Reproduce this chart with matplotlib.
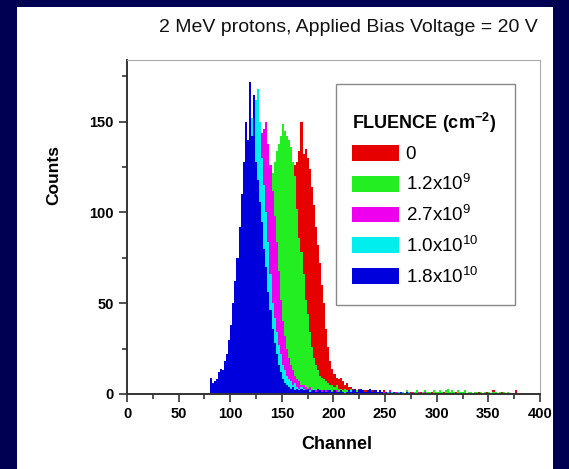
import numpy as np
import matplotlib
matplotlib.use('Agg')
import matplotlib.pyplot as plt
import matplotlib.patches as mpatches
from matplotlib.ticker import MultipleLocator

plt.rcParams['font.family'] = ['Liberation Sans', 'DejaVu Sans']
plt.rcParams['mathtext.fontset'] = 'custom'
plt.rcParams['mathtext.rm'] = 'Liberation Sans'
plt.rcParams['mathtext.bf'] = 'Liberation Sans:bold'

# spectra, counts per 2-channel bin, first bin starts at the given channel
bin_width = 2
labels = ['0', '1.2x10$^9$', '2.7x10$^9$', '1.0x10$^{10}$', '1.8x10$^{10}$']
colors = ['#e60000', '#22ee22', '#ee00ee', '#00eeee', '#0000dd']

red_start = 120
red = [3, 4, 6, 8, 10, 14, 18, 22, 28, 34, 42, 50, 58, 66, 76, 86, 94, 102, 110, 116,
       122, 126, 128, 134, 150, 132, 135, 130, 124, 114, 104, 92, 82, 72, 60, 50, 36, 26,
       18, 14, 11, 9, 8, 9, 7, 5, 6, 4, 4, 3, 3, 2, 3,
       2, 1, 2, 1, 1, 2, 0, 1, 1, 0, 1, 2, 0, 1, 0, 1, 1, 0, 1, 0, 1, 0, 1, 0, 1, 0, 0,
       1, 0, 1, 0, 0, 1, 0, 1, 0, 0, 1, 0, 0, 1, 0, 0, 1, 0, 0, 1, 0, 0, 0, 1, 0, 0, 1,
       0, 0, 0, 1, 0, 0, 0, 1, 0, 0, 2, 1, 0, 0, 1, 0, 0, 0, 0, 0, 0, 2]

green_start = 106
green = [3, 5, 7, 10, 14, 18, 24, 30, 38, 46, 56, 66, 76, 86, 96, 106, 114, 122, 128, 134,
         138, 142, 149, 145, 142, 140, 136, 128, 120, 102, 86, 78, 66, 52, 44, 34, 26, 20,
         16, 13, 10, 9, 8, 7, 6, 5, 5, 4, 5, 3, 3, 2, 3, 2,
         2, 3, 1, 2, 2, 1, 2, 1, 1, 2, 1, 1, 0, 1, 1, 1, 0, 1, 1, 0, 1, 1, 0, 1, 0, 1, 1,
         0, 2, 1, 0, 1, 1, 2, 1, 0, 1, 2, 1, 1, 0, 2, 1, 1, 2, 1, 0, 2, 3, 1, 2, 1, 0, 2,
         1, 1, 2, 0, 1, 1, 0, 1, 1, 0, 1, 0, 1, 0, 1, 0, 1, 1, 0, 1, 0, 1, 0, 1]

magenta_start = 96
magenta = [3, 5, 8, 12, 16, 22, 28, 36, 46, 56, 68, 80, 94, 108, 120, 130, 138, 144, 146,
           150, 138, 126, 112, 98, 84, 68, 52, 40, 32, 25, 20, 16, 13, 10, 8, 7, 5, 5, 4,
           3, 4, 2, 3, 2, 2, 1, 2,
           1, 2, 1, 2, 1, 1, 2, 1, 1, 0, 1, 1, 0, 1, 1, 0, 1, 0, 1, 1, 0, 1, 0, 1, 0, 1,
           0, 1, 0, 1, 1, 0, 2, 1, 0, 1, 1, 0, 1, 0, 1, 0, 0, 1, 0, 0, 1, 0, 0, 1]

cyan_start = 88
cyan = [3, 5, 7, 10, 14, 18, 24, 32, 40, 52, 64, 78, 92, 112, 128, 140, 152, 156, 162,
        168, 150, 130, 115, 100, 84, 66, 50, 42, 34, 27, 22, 16, 13, 10, 8, 7, 5, 6, 4,
        3, 4, 3, 2, 3, 2, 2, 3, 1, 2, 2, 1, 2, 1, 2, 1, 1, 2, 1,
        1, 2, 1, 1, 0, 1, 2, 1, 0, 1, 1, 0, 1, 0, 1, 1, 0, 1, 0, 1, 0, 1, 0, 0, 1, 0,
        1, 0, 0, 1, 0, 1, 0, 0, 1]

blue_start = 80
blue = [9, 6, 7, 8, 12, 14, 13, 18, 22, 30, 38, 50, 62, 75, 92, 110, 128, 150, 140, 172,
        142, 165, 128, 118, 106, 95, 80, 70, 56, 46, 36, 28, 22, 16, 12, 8, 6, 5, 4, 3, 4,
        2, 3, 2, 3, 2, 2, 3, 1, 2, 2, 1, 3, 2, 1, 2, 1, 2, 2, 1, 2, 1, 1, 2, 1, 0, 1, 2,
        1, 2, 3, 1, 2, 3, 2, 1, 2, 3, 1, 2, 2, 1, 2, 1, 0, 1, 0, 1, 0, 1, 0, 0, 1, 0, 0, 1]

series = [(red_start, red), (green_start, green), (magenta_start, magenta),
          (cyan_start, cyan), (blue_start, blue)]

fig = plt.figure(figsize=(5.69, 4.69), dpi=100, facecolor='#000052')
fig.patches.append(mpatches.Rectangle((17 / 569, 0), 536 / 569, 462 / 469,
                                      transform=fig.transFigure, facecolor='white',
                                      edgecolor='none', zorder=-10))
ax = fig.add_axes([0.2232, 0.16, 0.7258, 0.712])
ax.set_zorder(2)

for (start, counts), c in zip(series, colors):
    edges = start + bin_width * np.arange(len(counts) + 1)
    ax.stairs(counts, edges, fill=True, color=c, linewidth=0)

ax.set_xlim(0, 400)
ax.set_ylim(0, 184)
ax.xaxis.set_major_locator(MultipleLocator(50))
ax.xaxis.set_minor_locator(MultipleLocator(25))
ax.yaxis.set_major_locator(MultipleLocator(50))
ax.yaxis.set_minor_locator(MultipleLocator(25))
ax.tick_params(which='both', direction='out', top=False, right=False, width=1.2, color='#333333')
ax.tick_params(which='major', length=6, labelsize=10.5)
ax.tick_params(which='minor', length=3.5)
for lab in ax.get_xticklabels() + ax.get_yticklabels():
    lab.set_fontweight('bold')
for s in ['left', 'bottom']:
    ax.spines[s].set_linewidth(1.4)
    ax.spines[s].set_color('#333333')
for s in ['top', 'right']:
    ax.spines[s].set_linewidth(0.8)
    ax.spines[s].set_color('#aaaaaa')

ax.set_xlabel('Channel', fontsize=13, fontweight='bold')
ax.set_ylabel('Counts', fontsize=12.5, fontweight='bold')
ax.xaxis.set_label_coords(0.508, -0.125)
ax.yaxis.set_label_coords(-0.16, 0.656)

fig.text(0.612, 0.942, '2 MeV protons, Applied Bias Voltage = 20 V', fontsize=14,
         ha='center', va='center', color='#111111')

# legend box and entries
ax.add_patch(mpatches.Rectangle((0.506, 0.266), 0.433, 0.662, transform=ax.transAxes,
                                facecolor='white', edgecolor='#888888', linewidth=1, zorder=5))
handles = [mpatches.Patch(facecolor=c, edgecolor='none') for c in colors]
leg = ax.legend(handles, labels, title=r'FLUENCE (cm$^{\mathbf{-2}}$)', loc='upper left',
                bbox_to_anchor=(0.545, 0.849), frameon=False, fontsize=13.5,
                title_fontproperties={'weight': 'bold', 'size': 13},
                handlelength=2.5, handleheight=0.93, handletextpad=0.35,
                labelspacing=0.54, borderpad=0, borderaxespad=0, alignment='left')
leg.set_zorder(6)

fig.savefig('out.png', dpi=100, facecolor=fig.get_facecolor())
